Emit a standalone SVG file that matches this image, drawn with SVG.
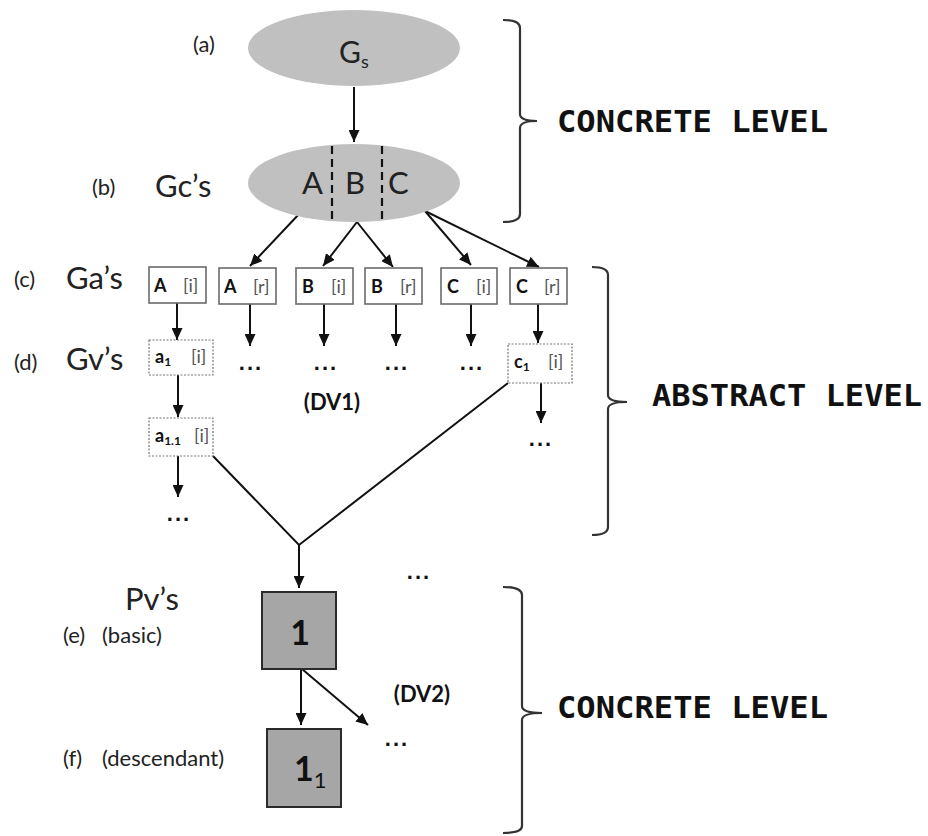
<svg xmlns="http://www.w3.org/2000/svg" width="928" height="836" viewBox="0 0 928 836">
<defs>
<marker id="ah" markerUnits="userSpaceOnUse" markerWidth="12" markerHeight="11" refX="12" refY="5.5" orient="auto"><path d="M0,0 L12,5.5 L0,11 z" fill="#111"/></marker>
<style>
.t{font-family:Lato,"Open Sans","Liberation Sans",sans-serif;fill:#222}
.lbl{font-size:22px}
.big{font-size:31px}
.bx{font-size:18px}
.b{font-weight:bold;fill:#111}
.br{fill:#555}
.mono{font-family:"DejaVu Sans Mono","Liberation Mono",monospace;font-weight:bold;font-size:30px;fill:#111}
.dots{font-family:"Liberation Sans",sans-serif;font-weight:bold;font-size:22px;letter-spacing:2px;fill:#111;text-anchor:middle}
.ell{fill:#c0c0c0}
.box{fill:#fff;stroke:#6b6b6b;stroke-width:1.6}
.vbox{fill:#fff;stroke:#777;stroke-width:1.2;stroke-dasharray:2 1.5}
.sq{fill:#a6a6a6;stroke:#2a2a2a;stroke-width:2}
.ln{stroke:#111;stroke-width:2;fill:none}
.arr{stroke:#111;stroke-width:2;fill:none;marker-end:url(#ah)}
.brk{stroke:#333;stroke-width:2.2;fill:none}
</style>
</defs>
<rect width="928" height="836" fill="#fff"/>

<g id="side-labels">
<text class="t lbl" x="193" y="52">(a)</text>
<text class="t lbl" x="92" y="195">(b)</text>
<text class="t big" x="155" y="197">Gc’s</text>
<text class="t lbl" x="14" y="287">(c)</text>
<text class="t big" x="66" y="289">Ga’s</text>
<text class="t lbl" x="14" y="370">(d)</text>
<text class="t big" x="66" y="370">Gv’s</text>
<text class="t big" x="125" y="610">Pv’s</text>
<text class="t lbl" x="63" y="643">(e)</text>
<text class="t lbl" x="102" y="643">(basic)</text>
<text class="t lbl" x="63" y="766">(f)</text>
<text class="t lbl" x="102" y="766">(descendant)</text>
</g>

<g id="connectors">
<line class="arr" x1="354" y1="87" x2="354" y2="142"/>
<line class="arr" x1="300" y1="213" x2="250" y2="266"/>
<line class="arr" x1="357" y1="222" x2="323" y2="266"/>
<line class="arr" x1="357" y1="222" x2="393" y2="267"/>
<line class="arr" x1="425" y1="211" x2="471" y2="265"/>
<line class="arr" x1="425" y1="211" x2="539" y2="267"/>
<line class="arr" x1="177" y1="303" x2="177" y2="340"/>
<line class="arr" x1="250" y1="304" x2="250" y2="346"/>
<line class="arr" x1="324" y1="304" x2="324" y2="346"/>
<line class="arr" x1="396" y1="304" x2="396" y2="346"/>
<line class="arr" x1="471" y1="304" x2="471" y2="346"/>
<line class="arr" x1="538" y1="304" x2="538" y2="343"/>
<line class="arr" x1="178" y1="375" x2="178" y2="417"/>
<line class="arr" x1="178" y1="456" x2="178" y2="497"/>
<line class="arr" x1="541" y1="383" x2="541" y2="423"/>
<polyline class="ln" points="213,456 299,545 508,383"/>
<line class="arr" x1="299" y1="545" x2="299" y2="588"/>
<line class="arr" x1="301" y1="669" x2="301" y2="725"/>
<line class="arr" x1="302" y1="669" x2="368" y2="725"/>
</g>

<g id="node-gs">
<ellipse class="ell" cx="354" cy="48" rx="106" ry="38"/>
<text class="t" x="339" y="63" font-size="30">G</text>
<text class="t" x="361" y="68" font-size="18">s</text>
</g>

<g id="node-gc">
<ellipse class="ell" cx="354" cy="183" rx="106" ry="39"/>
<line x1="332" y1="146" x2="332" y2="222" stroke="#111" stroke-width="2.2" stroke-dasharray="8 5"/>
<line x1="382" y1="146" x2="382" y2="222" stroke="#111" stroke-width="2.2" stroke-dasharray="8 5"/>
<text class="t" x="302" y="194" font-size="31">A</text>
<text class="t" x="345" y="194" font-size="31">B</text>
<text class="t" x="388" y="194" font-size="31">C</text>
</g>

<g id="node-ai">
<rect class="box" x="149" y="267" width="57" height="36"/>
<text class="t bx b" x="154" y="292">A</text><text class="t bx br" x="183" y="292">[i]</text>
</g>
<g id="node-ar">
<rect class="box" x="219" y="268" width="57" height="36"/>
<text class="t bx b" x="224" y="293">A</text><text class="t bx br" x="253" y="293">[r]</text>
</g>
<g id="node-bi">
<rect class="box" x="296" y="268" width="57" height="36"/>
<text class="t bx b" x="302" y="293">B</text><text class="t bx br" x="331" y="293">[i]</text>
</g>
<g id="node-br">
<rect class="box" x="365" y="268" width="57" height="36"/>
<text class="t bx b" x="371" y="293">B</text><text class="t bx br" x="400" y="293">[r]</text>
</g>
<g id="node-ci">
<rect class="box" x="441" y="268" width="56" height="36"/>
<text class="t bx b" x="447" y="293">C</text><text class="t bx br" x="476" y="293">[i]</text>
</g>
<g id="node-cr">
<rect class="box" x="510" y="268" width="57" height="36"/>
<text class="t bx b" x="516" y="293">C</text><text class="t bx br" x="544" y="293">[r]</text>
</g>

<g id="node-a1">
<rect class="vbox" x="149" y="340" width="64" height="35"/>
<text class="t bx b" x="155" y="363">a<tspan font-size="12" dy="3">1</tspan></text>
<text class="t bx br" x="191" y="363">[i]</text>
</g>
<g id="node-a11">
<rect class="vbox" x="149" y="418" width="64" height="38"/>
<text class="t bx b" x="155" y="442">a<tspan font-size="12" dy="3">1.1</tspan></text>
<text class="t bx br" x="194" y="442">[i]</text>
</g>
<g id="node-c1">
<rect class="vbox" x="508" y="344" width="64" height="39"/>
<text class="t bx b" x="514" y="368">c<tspan font-size="12" dy="3">1</tspan></text>
<text class="t bx br" x="548" y="368">[i]</text>
</g>

<g id="dots">
<text class="dots" x="251" y="370">...</text>
<text class="dots" x="326" y="370">...</text>
<text class="dots" x="397" y="370">...</text>
<text class="dots" x="472" y="370">...</text>
<text class="dots" x="541" y="446">...</text>
<text class="dots" x="179" y="521">...</text>
<text class="dots" x="419" y="579">...</text>
<text class="dots" x="397" y="746">...</text>
</g>

<g id="dv-labels">
<text class="t b" x="332" y="410" font-size="22" text-anchor="middle">(DV1)</text>
<text class="t b" x="422" y="702" font-size="22" text-anchor="middle">(DV2)</text>
</g>

<g id="node-p1">
<rect class="sq" x="262" y="592" width="74" height="77"/>
<text class="t b" x="300" y="645" font-size="34" text-anchor="middle">1</text>
</g>
<g id="node-p11">
<rect class="sq" x="267" y="729" width="74" height="78"/>
<text class="t b" x="294" y="781" font-size="34">1<tspan font-weight="normal" font-size="22" dy="7">1</tspan></text>
</g>

<g id="brackets">
<path class="brk" d="M503,20 Q520,20 520,28 L520,114 Q520,121 537,121 Q520,121 520,128 L520,214 Q520,222 503,222"/>
<text class="mono" x="557" y="132" textLength="271" lengthAdjust="spacingAndGlyphs">CONCRETE LEVEL</text>
<path class="brk" d="M592,267 Q608,267 608,275 L608,395 Q608,402 627,402 Q608,402 608,409 L608,527 Q608,535 592,535"/>
<text class="mono" x="652" y="406" textLength="270" lengthAdjust="spacingAndGlyphs">ABSTRACT LEVEL</text>
<path class="brk" d="M503,587 Q522,587 522,595 L522,706 Q522,713 542,713 Q522,713 522,720 L522,826 Q522,833 503,833"/>
<text class="mono" x="557" y="718" textLength="271" lengthAdjust="spacingAndGlyphs">CONCRETE LEVEL</text>
</g>
</svg>
